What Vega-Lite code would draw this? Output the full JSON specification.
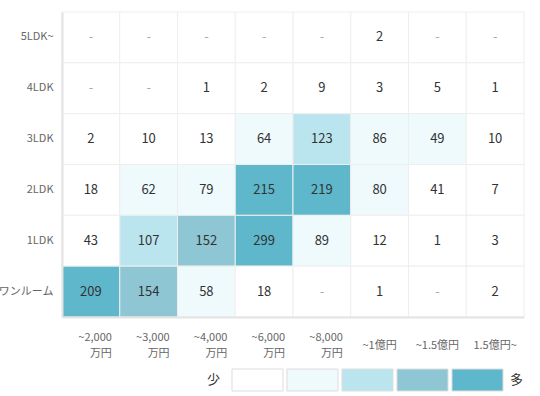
{
  "$schema": "https://vega.github.io/schema/vega-lite/v6.json",
  "width": 462,
  "height": 305,
  "autosize": {"type": "none"},
  "padding": {"left": 62, "top": 12, "right": 16, "bottom": 79},
  "background": "white",
  "config": {
    "font": "Noto Sans CJK JP",
    "view": {"stroke": null},
    "axis": {"labelFont": "Noto Sans CJK JP", "labelColor": "#666666", "labelFontSize": 11, "ticks": false, "grid": false, "title": null, "domainColor": "#e3e3e3", "domainWidth": 2}
  },
  "resolve": {"scale": {"x": "independent", "y": "independent", "color": "independent"}, "axis": {"x": "independent", "y": "independent"}},
  "layer": [
    {
      "data": {
        "values": [
          {"price": "~2,000万円", "room": "5LDK~", "count": null},
          {"price": "~3,000万円", "room": "5LDK~", "count": null},
          {"price": "~4,000万円", "room": "5LDK~", "count": null},
          {"price": "~6,000万円", "room": "5LDK~", "count": null},
          {"price": "~8,000万円", "room": "5LDK~", "count": null},
          {"price": "~1億円", "room": "5LDK~", "count": 2},
          {"price": "~1.5億円", "room": "5LDK~", "count": null},
          {"price": "1.5億円~", "room": "5LDK~", "count": null},
          {"price": "~2,000万円", "room": "4LDK", "count": null},
          {"price": "~3,000万円", "room": "4LDK", "count": null},
          {"price": "~4,000万円", "room": "4LDK", "count": 1},
          {"price": "~6,000万円", "room": "4LDK", "count": 2},
          {"price": "~8,000万円", "room": "4LDK", "count": 9},
          {"price": "~1億円", "room": "4LDK", "count": 3},
          {"price": "~1.5億円", "room": "4LDK", "count": 5},
          {"price": "1.5億円~", "room": "4LDK", "count": 1},
          {"price": "~2,000万円", "room": "3LDK", "count": 2},
          {"price": "~3,000万円", "room": "3LDK", "count": 10},
          {"price": "~4,000万円", "room": "3LDK", "count": 13},
          {"price": "~6,000万円", "room": "3LDK", "count": 64},
          {"price": "~8,000万円", "room": "3LDK", "count": 123},
          {"price": "~1億円", "room": "3LDK", "count": 86},
          {"price": "~1.5億円", "room": "3LDK", "count": 49},
          {"price": "1.5億円~", "room": "3LDK", "count": 10},
          {"price": "~2,000万円", "room": "2LDK", "count": 18},
          {"price": "~3,000万円", "room": "2LDK", "count": 62},
          {"price": "~4,000万円", "room": "2LDK", "count": 79},
          {"price": "~6,000万円", "room": "2LDK", "count": 215},
          {"price": "~8,000万円", "room": "2LDK", "count": 219},
          {"price": "~1億円", "room": "2LDK", "count": 80},
          {"price": "~1.5億円", "room": "2LDK", "count": 41},
          {"price": "1.5億円~", "room": "2LDK", "count": 7},
          {"price": "~2,000万円", "room": "1LDK", "count": 43},
          {"price": "~3,000万円", "room": "1LDK", "count": 107},
          {"price": "~4,000万円", "room": "1LDK", "count": 152},
          {"price": "~6,000万円", "room": "1LDK", "count": 299},
          {"price": "~8,000万円", "room": "1LDK", "count": 89},
          {"price": "~1億円", "room": "1LDK", "count": 12},
          {"price": "~1.5億円", "room": "1LDK", "count": 1},
          {"price": "1.5億円~", "room": "1LDK", "count": 3},
          {"price": "~2,000万円", "room": "ワンルーム", "count": 209},
          {"price": "~3,000万円", "room": "ワンルーム", "count": 154},
          {"price": "~4,000万円", "room": "ワンルーム", "count": 58},
          {"price": "~6,000万円", "room": "ワンルーム", "count": 18},
          {"price": "~8,000万円", "room": "ワンルーム", "count": null},
          {"price": "~1億円", "room": "ワンルーム", "count": 1},
          {"price": "~1.5億円", "room": "ワンルーム", "count": null},
          {"price": "1.5億円~", "room": "ワンルーム", "count": 2}
        ]
      },
      "encoding": {
        "x": {
          "field": "price", "type": "nominal",
          "sort": ["~2,000万円", "~3,000万円", "~4,000万円", "~6,000万円", "~8,000万円", "~1億円", "~1.5億円", "1.5億円~"],
          "scale": {"paddingInner": 0, "paddingOuter": 0},
          "axis": {
            "labelAngle": 0,
            "labelPadding": 28,
            "labelLineHeight": 16,
            "labelExpr": "indexof(datum.value,'万円')>0 ? [replace(datum.value,'万円',''), '万円'] : datum.value",
            "labelBaseline": {"condition": {"test": "indexof(datum.value,'万円')>0", "value": "line-bottom"}, "value": "middle"},
            "labelAlign": {"condition": {"test": "indexof(datum.value,'万円')>0", "value": "right"}, "value": "center"},
            "labelOffset": {"condition": {"test": "indexof(datum.value,'万円')>0", "value": 21}, "value": 0}
          }
        },
        "y": {
          "field": "room", "type": "nominal",
          "sort": ["5LDK~", "4LDK", "3LDK", "2LDK", "1LDK", "ワンルーム"],
          "scale": {"paddingInner": 0, "paddingOuter": 0},
          "axis": {"labelPadding": 9}
        }
      },
      "layer": [
        {
          "mark": {"type": "rect", "stroke": "#eeeeee", "strokeWidth": 1, "invalid": "show"},
          "encoding": {
            "color": {
              "condition": {"test": "datum.count === null", "value": "#ffffff"},
              "field": "count", "type": "quantitative",
              "scale": {"type": "threshold", "domain": [45, 100, 150, 200], "range": ["#ffffff", "#effafd", "#bae5ee", "#8ec6d3", "#5eb7ca"]},
              "legend": null
            }
          }
        },
        {
          "mark": {"type": "text", "fontSize": 13},
          "encoding": {
            "text": {"condition": {"test": "datum.count === null", "value": "-"}, "field": "count", "type": "quantitative"},
            "color": {"condition": {"test": "datum.count === null", "value": "#aaaaaa"}, "value": "#333333"}
          }
        }
      ]
    },
    {
      "data": {
        "values": [
          {"key": "少"},
          {"key": "lv1"},
          {"key": "lv2"},
          {"key": "lv3"},
          {"key": "lv4"},
          {"key": "lv5"},
          {"key": "多"}
        ]
      },
      "encoding": {
        "x": {
          "field": "key", "type": "nominal",
          "sort": ["少", "lv1", "lv2", "lv3", "lv4", "lv5", "多"],
          "scale": {"range": [115, 496], "paddingInner": 0.0727, "paddingOuter": 0},
          "axis": null
        },
        "y": {
          "datum": "legend", "type": "nominal",
          "scale": {"range": [357, 379], "paddingInner": 0, "paddingOuter": 0},
          "axis": null
        }
      },
      "layer": [
        {
          "transform": [{"filter": "datum.key !== '少' && datum.key !== '多'"}],
          "mark": {"type": "rect", "stroke": "#dddddd", "strokeWidth": 1},
          "encoding": {
            "color": {
              "field": "key", "type": "nominal",
              "scale": {"domain": ["lv1", "lv2", "lv3", "lv4", "lv5"], "range": ["#ffffff", "#effafd", "#bae5ee", "#8ec6d3", "#5eb7ca"]},
              "legend": null
            }
          }
        },
        {
          "transform": [{"filter": "datum.key === '少'"}],
          "mark": {"type": "text", "fontSize": 13, "color": "#333333", "align": "right", "baseline": "middle", "dx": -8},
          "encoding": {
            "x": {"field": "key", "type": "nominal", "sort": ["少", "lv1", "lv2", "lv3", "lv4", "lv5", "多"], "bandPosition": 1},
            "text": {"field": "key"}
          }
        },
        {
          "transform": [{"filter": "datum.key === '多'"}],
          "mark": {"type": "text", "fontSize": 13, "color": "#333333", "align": "left", "baseline": "middle", "dx": 3},
          "encoding": {
            "x": {"field": "key", "type": "nominal", "sort": ["少", "lv1", "lv2", "lv3", "lv4", "lv5", "多"], "bandPosition": 0},
            "text": {"field": "key"}
          }
        }
      ]
    }
  ]
}
